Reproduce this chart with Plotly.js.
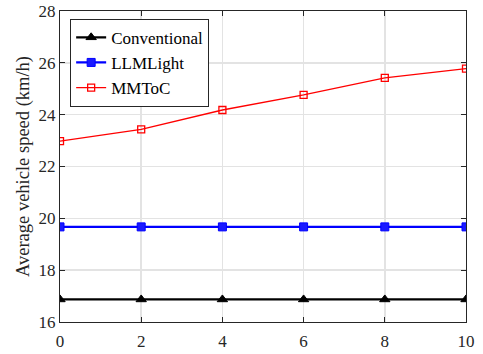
<!DOCTYPE html>
<html><head><meta charset="utf-8">
<script src="https://cdn.plot.ly/plotly-3.0.1.min.js"></script>
<style>body{margin:0;background:#fff}#chart{width:483px;height:354px}</style>
</head><body><div id="chart"></div>
<script>
const xValues = [0, 2, 4, 6, 8, 10];
const conventional = [16.87, 16.87, 16.87, 16.87, 16.87, 16.87];
const llmlight = [19.67, 19.67, 19.67, 19.67, 19.67, 19.67];
const mmtoc = [22.98, 23.43, 24.18, 24.76, 25.42, 25.78];
const seriesNames = ['Conventional', 'LLMLight', 'MMToC'];
const yTicks = [16, 18, 20, 22, 24, 26, 28];
const xTicks = [0, 2, 4, 6, 8, 10];

const font = 'Liberation Serif, Times New Roman, serif';
const traces = [
  {x: xValues, y: conventional, name: seriesNames[0], mode: 'lines+markers',
   line: {color: '#000000', width: 2.2},
   marker: {symbol: 'triangle-up', size: 9, color: '#000000', line: {color: '#000000', width: 1}}},
  {x: xValues, y: llmlight, name: seriesNames[1], mode: 'lines+markers',
   line: {color: '#0000ff', width: 2.2},
   marker: {symbol: 'square', size: 8, color: '#1a1aff', line: {color: '#0000ff', width: 1}}},
  {x: xValues, y: mmtoc, name: seriesNames[2], mode: 'lines+markers',
   line: {color: '#ff0000', width: 1.3},
   marker: {symbol: 'square-open', size: 7, color: '#ff0000', line: {width: 1.3}}}
];
const layout = {
  width: 483, height: 354,
  margin: {l: 60, r: 17, t: 11, b: 32},
  paper_bgcolor: '#ffffff', plot_bgcolor: '#ffffff',
  font: {family: font, size: 17, color: '#262626'},
  showlegend: true,
  legend: {x: 0.025, y: 0.975, xanchor: 'left', yanchor: 'top',
    bgcolor: '#ffffff', bordercolor: '#262626', borderwidth: 1,
    font: {family: font, size: 17, color: '#000'}, tracegroupgap: 0, itemwidth: 30},
  xaxis: {range: [0, 10], tickvals: xTicks, ticktext: xTicks.map(String),
    showgrid: true, gridcolor: '#e3e3e3', gridwidth: 1.5, zeroline: false,
    showline: true, linecolor: '#262626', linewidth: 1.2, mirror: 'ticks',
    ticks: 'inside', ticklen: 5, tickcolor: '#262626', tickfont: {size: 17},
    ticklabelstandoff: 3},
  yaxis: {range: [16, 28], tickvals: yTicks, ticktext: yTicks.map(String),
    showgrid: true, gridcolor: '#e3e3e3', gridwidth: 1.5, zeroline: false,
    showline: true, linecolor: '#262626', linewidth: 1.2, mirror: 'ticks',
    ticks: 'inside', ticklen: 5, tickcolor: '#262626', tickfont: {size: 17},
    title: {text: 'Average vehicle speed (km/h)', font: {size: 18.5}, standoff: 4}}
};
Plotly.newPlot('chart', traces, layout, {staticPlot: true});
</script></body></html>
